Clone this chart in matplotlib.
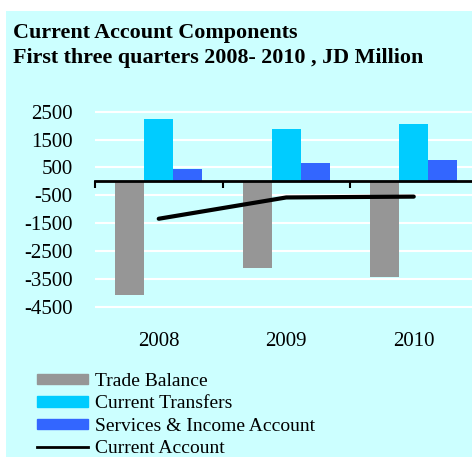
import matplotlib
matplotlib.use('Agg')
import matplotlib.pyplot as plt
import matplotlib.patches as mpatches
import matplotlib.lines as mlines
import matplotlib.transforms as mtransforms
import numpy as np

plt.rcParams['font.family'] = ['Liberation Serif', 'DejaVu Serif']

# data (JD million)
years = ['2008', '2009', '2010']
trade_balance = [-4070, -3130, -3420]
current_transfers = [2250, 1860, 2070]
services_income = [450, 670, 780]
current_account = [-1345, -580, -550]
ytick_vals = [2500, 1500, 500, -500, -1500, -2500, -3500, -4500]

bg = '#CCFFFF'
c_trade = '#969696'
c_transfers = '#00CCFF'
c_services = '#3366FF'

fig = plt.figure(figsize=(4.72, 4.57), dpi=100)
fig.patch.set_facecolor('white')
# cyan chart area
fig.patches.append(mpatches.Rectangle((6 / 472, 0), 1, 1 - 11 / 457, transform=fig.transFigure,
                                      facecolor=bg, edgecolor='none', zorder=-5))

ax = fig.add_axes([95 / 472, 1 - 312.2 / 457, 382.5 / 472, (312.2 - 106.1) / 457])
ax.set_facecolor(bg)
ax.patch.set_alpha(0)

x = np.arange(len(years))
w = 0.227
ax.bar(x - w, trade_balance, w, color=c_trade, zorder=2)
ax.bar(x, current_transfers, w, color=c_transfers, zorder=2)
ax.bar(x + w, services_income, w, color=c_services, zorder=2)
ax.plot(x, current_account, color='black', lw=3, solid_capstyle='round', zorder=4)

ax.set_xlim(-0.5, 2.5)
ax.set_ylim(-4700, 2700)
ax.set_yticks(ytick_vals)
ax.set_yticklabels([str(v) for v in ytick_vals], fontsize=15)
ax.tick_params(axis='y', length=0, pad=16)
ax.yaxis.grid(True, color='white', lw=1.5, zorder=1)

for s in ['top', 'right', 'left']:
    ax.spines[s].set_visible(False)
ax.spines['bottom'].set_position(('data', 0))
ax.spines['bottom'].set_linewidth(2)
ax.spines['bottom'].set_zorder(3)
ax.set_xticks([-0.5, 0.5, 1.5, 2.5])
ax.set_xticklabels([])
ax.tick_params(axis='x', direction='out', length=5, width=1.5)

trans = mtransforms.blended_transform_factory(ax.transData, ax.transAxes)
for i, yr in enumerate(years):
    ax.text(i, -0.142, yr, transform=trans, ha='center', va='center', fontsize=15)

fig.text(13 / 472, 1 - 38 / 457, 'Current Account Components',
         fontsize=15.8, fontweight='bold', ha='left', va='baseline')
fig.text(13 / 472, 1 - 63 / 457, 'First three quarters 2008- 2010 , JD Million',
         fontsize=15.8, fontweight='bold', ha='left', va='baseline')

handles = [mpatches.Patch(color=c_trade, label='Trade Balance'),
           mpatches.Patch(color=c_transfers, label='Current Transfers'),
           mpatches.Patch(color=c_services, label='Services & Income Account'),
           mlines.Line2D([], [], color='black', lw=2, label='Current Account')]
fig.legend(handles=handles, loc='upper left', bbox_to_anchor=(31 / 472, 1 - 367 / 457),
           frameon=False, fontsize=14, handlelength=2.65, handleheight=0.46,
           handletextpad=0.32, labelspacing=0.28, borderaxespad=0, borderpad=0.3)

fig.savefig('out.png', dpi=100, facecolor=fig.get_facecolor())
